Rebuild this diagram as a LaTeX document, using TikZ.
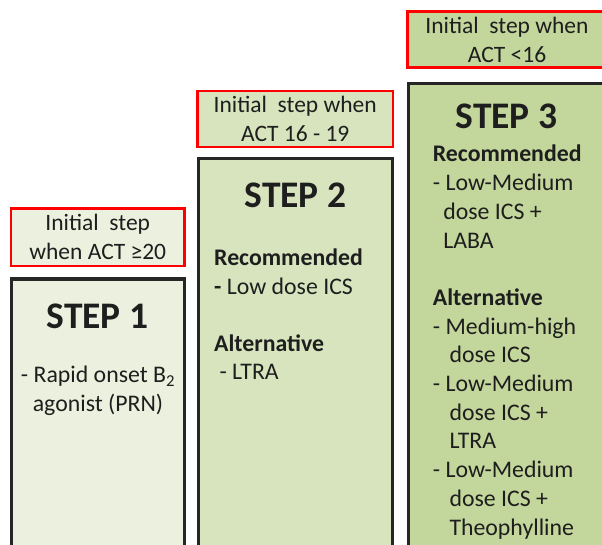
\documentclass[tikz,border=0pt]{standalone}
\usepackage{fontspec}
\setmainfont{Carlito}
\usetikzlibrary{positioning}
\definecolor{zold1}{HTML}{EBF1DE}
\definecolor{zold2}{HTML}{D7E4BD}
\definecolor{zold3}{HTML}{C3D69B}
\definecolor{keret}{HTML}{262626}
\definecolor{piros}{HTML}{FF0000}
\definecolor{betu}{HTML}{1E1E1E}
\tikzset{
  lepcso/.style={draw=keret,line width=3pt,outer sep=0pt,inner sep=0pt,anchor=north west},
  feltetel/.style={draw=piros,line width=2.5pt,outer sep=0pt,inner sep=0pt,anchor=north west,
                   align=center,text=betu,font=\fontsize{23.5}{28.5}\selectfont},
  cim/.style={anchor=base,inner sep=0pt,text=betu,font=\bfseries\fontsize{37.5}{40}\selectfont},
  szoveg/.style={anchor=base west,align=left,inner sep=0pt,text=betu,font=\fontsize{23.8}{28.5}\selectfont},
}

\begin{document}
\begin{tikzpicture}[x=1pt,y=-1pt]
  \useasboundingbox (0,0) rectangle (602,545);
  % the three steps
  \node[lepcso,fill=zold1,minimum width=173.5pt,minimum height=290pt] (s1) at (11,279) {};
  \node[lepcso,fill=zold2,minimum width=193.5pt,minimum height=410pt] (s2) at (198.5,159) {};
  \node[lepcso,fill=zold3,minimum width=198.6pt,minimum height=490pt] (s3) at (408,83.5) {};
  % when to start
  \node[feltetel,fill=zold1,minimum width=173.5pt,minimum height=57.7pt] (f1) at (11,208.3)
    {Initial\ \ step\\when ACT ≥20};
  \node[feltetel,fill=zold2,minimum width=195.5pt,minimum height=56pt] (f2) at (197.5,91)
    {Initial\ \ step when\\ACT 16 - 19};
  \node[feltetel,fill=zold3,minimum width=198.6pt,minimum height=56pt] (f3) at (407.7,11.7)
    {Initial\ \ step when\\ACT <16};
  \node[cim] (t1) at (97.5,328) {STEP 1};
  \node[cim] (t2) at (295.5,208) {STEP 2};
  \node[cim] (t3) at (506.5,128.3) {STEP 3};
  % base = last line
  \node[szoveg,align=center,anchor=base] (b1) at (98,411)
    {- Rapid onset B\textsubscript{2}\\agonist (PRN)};
  \node[szoveg] (b2) at (214,379.5)
    {\textbf{Recommended}\\\textbf{-} Low dose ICS\\[28.5pt]
     \textbf{Alternative}\\\hspace*{5.3pt}- LTRA};
  \node[szoveg,font=\fontsize{23.8}{28.7}\selectfont] (b3) at (432.7,535)
    {\textbf{Recommended}\\- Low-Medium\\\hspace*{10.5pt}dose ICS +\\\hspace*{10.5pt}LABA\\[28.7pt]
     \textbf{Alternative}\\- Medium-high\\\hspace*{16.6pt}dose ICS\\
     - Low-Medium\\\hspace*{16.6pt}dose ICS +\\\hspace*{16.6pt}LTRA\\
     - Low-Medium\\\hspace*{16.6pt}dose ICS +\\\hspace*{16.6pt}Theophylline};
\end{tikzpicture}
\end{document}
